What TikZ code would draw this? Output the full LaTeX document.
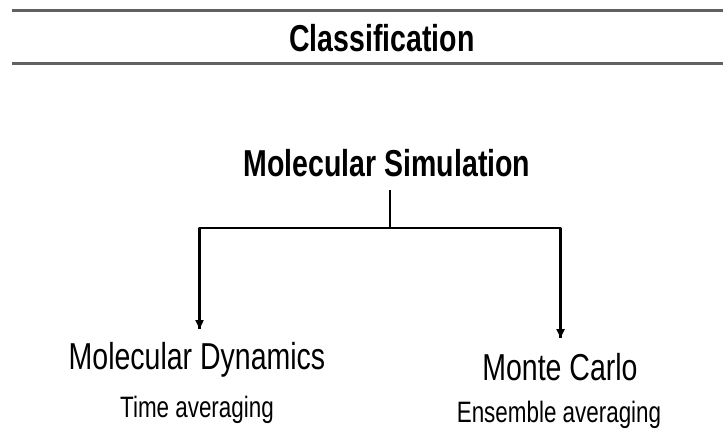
\documentclass[tikz,border=0pt]{standalone}
\usepackage{fontspec}
\setmainfont[FakeStretch=0.76]{Liberation Sans}
\usetikzlibrary{arrows.meta}
\tikzset{
  rule/.style={line width=3pt, draw=black!62},
  head/.style={font=\fontsize{37.5}{40}\selectfont\bfseries, inner sep=0pt, anchor=center},
  branch/.style={font=\fontsize{37.5}{40}\selectfont, inner sep=0pt, anchor=center},
  sub/.style={font=\fontsize{29.5}{32}\selectfont, inner sep=0pt, anchor=center},
  conn/.style={line width=2.4pt, draw=black},
  arr/.style={conn, -{Triangle[width=8pt,length=9pt]}}
}
\begin{document}
\begin{tikzpicture}[x=1pt,y=-1pt]
\useasboundingbox (0,0) rectangle (723,432);
% rules
\coordinate (r1a) at (12,10.5);
\coordinate (r1b) at (723,10.5);
\coordinate (r2a) at (12,63.5);
\coordinate (r2b) at (723,63.5);
\draw[rule] (r1a) -- (r1b);
\draw[rule] (r2a) -- (r2b);
% texts
\node[head] (title) at (382,38) {Classification};
\node[head] (ms) at (387,163) {Molecular Simulation};
\node[branch] (md) at (197,360) {Molecular Dynamics};
\node[sub] (ta) at (197,410) {Time averaging};
\node[branch] (mc) at (560,367) {Monte Carlo};
\node[sub] (ea) at (559,415) {Ensemble averaging};
% connectors
\coordinate (stemtop) at (390,190);
\coordinate (junc) at (390,228);
\coordinate (lc) at (199.5,228);
\coordinate (rc) at (560.5,228);
\coordinate (lend) at (199.5,329);
\coordinate (rend) at (560.5,338);
\draw[conn] (stemtop) -- (junc);
\draw[conn, line join=round] (lend) -- (lc) -- (rc) -- (rend);
\draw[arr] (lc) -- (lend);
\draw[arr] (rc) -- (rend);
\end{tikzpicture}
\end{document}
